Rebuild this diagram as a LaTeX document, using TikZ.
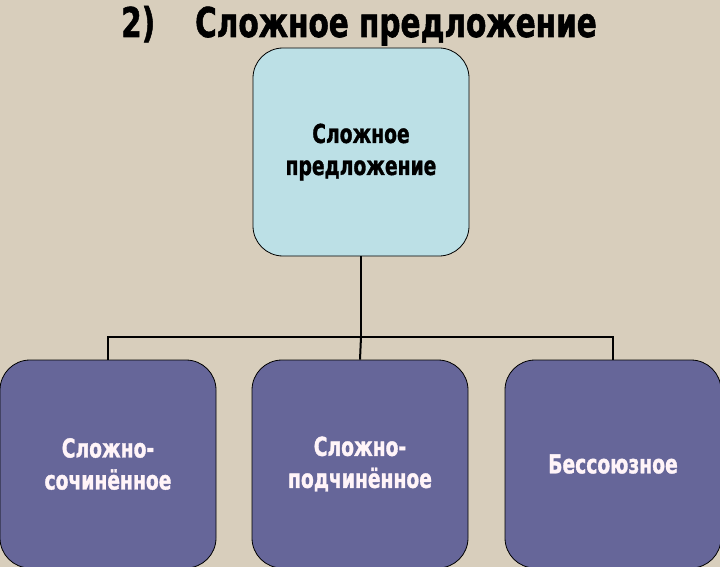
\documentclass[tikz,border=0pt]{standalone}
\usepackage{graphicx}
\usepackage{fontspec}
\newfontfamily\cond{DejaVu Sans Condensed}[BoldFont={DejaVu Sans Condensed Bold},BoldFeatures={FakeBold=1.5}]
\newcommand\sq[1]{\scalebox{0.8}[1]{#1}}
\definecolor{bgbeige}{HTML}{D8CEBC}
\definecolor{topcyan}{HTML}{BCE0E6}
\definecolor{boxpurple}{HTML}{666699}
\definecolor{paletext}{HTML}{FFF4F8}
\begin{document}
\begin{tikzpicture}[x=1pt,y=-1pt,
  box/.style={draw=black,line width=0.8pt,rounded corners=30pt,minimum width=216pt,minimum height=208pt,inner sep=0pt,align=center},
  topbox/.style={box,fill=topcyan,text=black},
  subbox/.style={box,fill=boxpurple,text=paletext},
  lbl/.style={font=\cond\bfseries\fontsize{26}{32}\selectfont},
  link/.style={draw=black,line width=2pt}]
\fill[bgbeige] (0,0) rectangle (720,567);
\useasboundingbox (0,0) rectangle (720,567);
\node[anchor=base west,inner sep=0pt,font=\cond\bfseries\fontsize{41}{44}\selectfont] (title) at (121,37) {\scalebox{0.8}[1]{2)\hspace{50pt}Сложное предложение}};
\node[topbox,lbl] (root) at (361,152) {\sq{Сложное}\\\sq{предложение}};
\node[subbox,lbl] (a) at (108,464) {\sq{Сложно-}\\\sq{сочинённое}};
\node[subbox,lbl] (b) at (360,464) {\sq{Сложно-}\\\sq{подчинённое}};
\node[subbox,lbl] (c) at (613,464) {\sq{Бессоюзное}};
\coordinate (j) at (361,337);
\draw[link] (root.south) -- (j);
\draw[link] (a.north) |- (j) -| (c.north);
\draw[link] (j) -- (b.north);
\end{tikzpicture}
\end{document}
